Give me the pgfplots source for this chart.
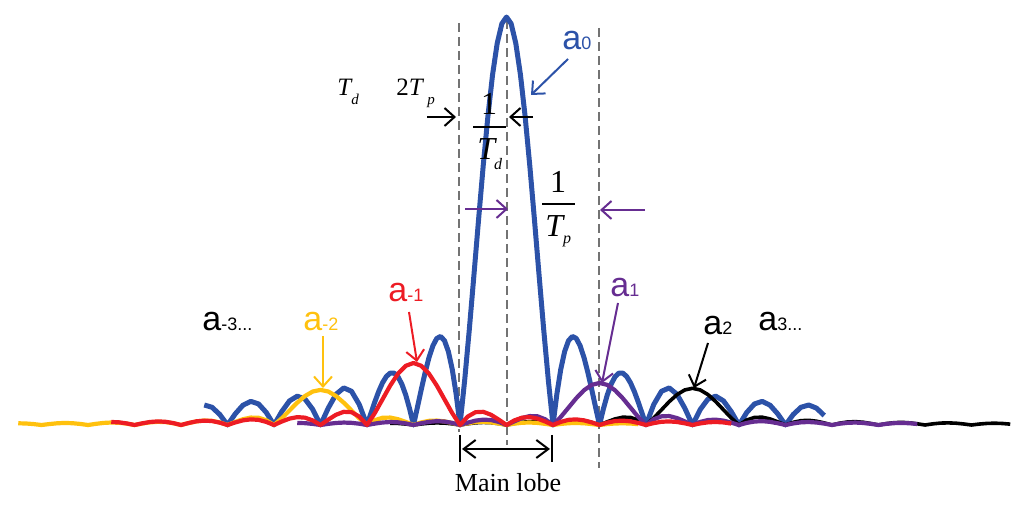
\documentclass[border=0pt]{standalone}
\usepackage{pgfplots}
\pgfplotsset{compat=1.18}
\usepackage{fontspec}
\setmainfont{Liberation Serif}
\newfontfamily\arial{Liberation Sans}
\usetikzlibrary{arrows.meta}

\definecolor{cblue}{RGB}{44,82,168}
\definecolor{cred}{RGB}{237,28,36}
\definecolor{cyellow}{RGB}{255,193,14}
\definecolor{cpurple}{RGB}{102,45,145}

% label "a" with a small index on the same baseline
\newcommand{\alab}[1]{{\arial\fontsize{17}{17}\selectfont a\fontsize{9}{9}\selectfont #1}}

\tikzset{
  ar/.style={-{Straight Barb[length=5pt,width=9pt]}, line width=1pt},
  dsh/.style={gray!90!black, line width=0.6pt, dash pattern=on 4.5pt off 2.5pt}
}

\begin{document}
\begin{tikzpicture}[x=0.5pt,y=-0.5pt,every node/.style={inner sep=0pt}]
\path (0,0) rectangle (1024,506);

% dashed guides
\draw[dsh] (459,23) -- (459,432);
\draw[dsh] (507,20) -- (507,445);
\draw[dsh] (599,28) -- (599,468);

\begin{axis}[
    at={(0,0)}, anchor=north west,
    width=512pt, height=253pt, scale only axis,
    xmin=-10.8925, xmax=11.1290,
    ymin=-0.1985, ymax=1.0417,
    hide axis
]
% a0
\addplot[cblue, line width=2.5pt, line join=round] coordinates {
(-6.5,0.0490) (-6.3333,0.0435) (-6.1667,0.0258) (-6,0)
(-5.8333,0.0273) (-5.6667,0.0486) (-5.5,0.0579) (-5.3333,0.0517) (-5.1667,0.0308) (-5,0)
(-4.8333,0.0329) (-4.6667,0.0591) (-4.5,0.0707) (-4.3333,0.0636) (-4.1667,0.0382) (-4,0)
(-3.8333,0.0415) (-3.6667,0.0752) (-3.5,0.0909) (-3.3333,0.0827) (-3.1667,0.0503) (-3,0)
(-2.9167,0.0282) (-2.8333,0.0562) (-2.75,0.0818) (-2.6667,0.1034) (-2.5833,0.1190) (-2.5,0.1273)
(-2.4167,0.1272) (-2.3333,0.1181) (-2.25,0.1000) (-2.1667,0.0735) (-2.0833,0.0395) (-2,0)
(-1.9167,0.0430) (-1.8333,0.0868) (-1.75,0.1286) (-1.6667,0.1654) (-1.5833,0.1942) (-1.5,0.2122)
(-1.4167,0.2170) (-1.3333,0.2067) (-1.25,0.1801) (-1.1667,0.1364) (-1.0833,0.0760) (-1,0)
(-0.9,0.1093) (-0.8,0.2339) (-0.7,0.3679) (-0.6,0.5046) (-0.5,0.6366) (-0.4,0.7568)
(-0.3,0.8584) (-0.2,0.9355) (-0.1,0.9836) (0,1)
(0.1,0.9836) (0.2,0.9355) (0.3,0.8584) (0.4,0.7568) (0.5,0.6366) (0.6,0.5046)
(0.7,0.3679) (0.8,0.2339) (0.9,0.1093) (1,0)
(1.0833,0.0760) (1.1667,0.1364) (1.25,0.1801) (1.3333,0.2067) (1.4167,0.2170) (1.5,0.2122)
(1.5833,0.1942) (1.6667,0.1654) (1.75,0.1286) (1.8333,0.0868) (1.9167,0.0430) (2,0)
(2.0833,0.0395) (2.1667,0.0735) (2.25,0.1000) (2.3333,0.1181) (2.4167,0.1272) (2.5,0.1273)
(2.5833,0.1190) (2.6667,0.1034) (2.75,0.0818) (2.8333,0.0562) (2.9167,0.0282) (3,0)
(3.1667,0.0503) (3.3333,0.0827) (3.5,0.0909) (3.6667,0.0752) (3.8333,0.0415) (4,0)
(4.1667,0.0382) (4.3333,0.0636) (4.5,0.0707) (4.6667,0.0591) (4.8333,0.0329) (5,0)
(5.1667,0.0308) (5.3333,0.0517) (5.5,0.0579) (5.6667,0.0486) (5.8333,0.0273) (6,0)
(6.1667,0.0258) (6.3333,0.0435) (6.5,0.0490) (6.6667,0.0413) (6.8333,0.0233)
};
% a2
\addplot[black, line width=1.8pt, line join=round] coordinates {
(-2.5,0.0044) (-2.3333,0.0039) (-2.1667,0.0023) (-2,0)
(-1.8333,0.0025) (-1.6667,0.0044) (-1.5,0.0052) (-1.3333,0.0047) (-1.1667,0.0028) (-1,0)
(-0.8333,0.0030) (-0.6667,0.0053) (-0.5,0.0064) (-0.3333,0.0057) (-0.1667,0.0034) (0,0)
(0.1667,0.0037) (0.3333,0.0068) (0.5,0.0082) (0.6667,0.0074) (0.8333,0.0045) (1,0)
(1.1667,0.0051) (1.3333,0.0093) (1.5,0.0115) (1.6667,0.0106) (1.8333,0.0066) (2,0)
(2.1667,0.0078) (2.3333,0.0149) (2.5,0.0191) (2.6667,0.0186) (2.8333,0.0123) (3,0)
(3.1667,0.0172) (3.3333,0.0372) (3.5,0.0573) (3.6667,0.0744) (3.8333,0.0859) (4,0.090)
(4.1667,0.0859) (4.3333,0.0744) (4.5,0.0573) (4.6667,0.0372) (4.8333,0.0172) (5,0)
(5.1667,0.0123) (5.3333,0.0186) (5.5,0.0191) (5.6667,0.0149) (5.8333,0.0078) (6,0)
(6.1667,0.0066) (6.3333,0.0106) (6.5,0.0115) (6.6667,0.0093) (6.8333,0.0051) (7,0)
(7.1667,0.0045) (7.3333,0.0074) (7.5,0.0082) (7.6667,0.0068) (7.8333,0.0037) (8,0)
(8.1667,0.0034) (8.3333,0.0057) (8.5,0.0064) (8.6667,0.0053) (8.8333,0.0030) (9,0)
(9.1667,0.0028) (9.3333,0.0047) (9.5,0.0052) (9.6667,0.0044) (9.8333,0.0025) (10,0)
(10.1667,0.0023) (10.3333,0.0039) (10.5,0.0044) (10.6667,0.0037) (10.8333,0.0021)
};
% a-2
\addplot[cyellow, line width=2.1pt, line join=round] coordinates {
(-10.5,0.0042) (-10.3333,0.0037) (-10.1667,0.0022) (-10,0)
(-9.8333,0.0023) (-9.6667,0.0042) (-9.5,0.0050) (-9.3333,0.0044) (-9.1667,0.0026) (-9,0)
(-8.8333,0.0028) (-8.6667,0.0051) (-8.5,0.0061) (-8.3333,0.0055) (-8.1667,0.0033) (-8,0)
(-7.8333,0.0036) (-7.6667,0.0065) (-7.5,0.0078) (-7.3333,0.0071) (-7.1667,0.0043) (-7,0)
(-6.8333,0.0048) (-6.6667,0.0089) (-6.5,0.0109) (-6.3333,0.0102) (-6.1667,0.0063) (-6,0)
(-5.8333,0.0075) (-5.6667,0.0142) (-5.5,0.0182) (-5.3333,0.0178) (-5.1667,0.0117) (-5,0)
(-4.8333,0.0164) (-4.6667,0.0356) (-4.5,0.0547) (-4.3333,0.0711) (-4.1667,0.0821) (-4,0.086)
(-3.8333,0.0821) (-3.6667,0.0711) (-3.5,0.0547) (-3.3333,0.0356) (-3.1667,0.0164) (-3,0)
(-2.8333,0.0117) (-2.6667,0.0178) (-2.5,0.0182) (-2.3333,0.0142) (-2.1667,0.0075) (-2,0)
(-1.8333,0.0063) (-1.6667,0.0102) (-1.5,0.0109) (-1.3333,0.0089) (-1.1667,0.0048) (-1,0)
(-0.8333,0.0043) (-0.6667,0.0071) (-0.5,0.0078) (-0.3333,0.0065) (-0.1667,0.0036) (0,0)
(0.1667,0.0033) (0.3333,0.0055) (0.5,0.0061) (0.6667,0.0051) (0.8333,0.0028) (1,0)
(1.1667,0.0026) (1.3333,0.0044) (1.5,0.0050) (1.6667,0.0042) (1.8333,0.0023) (2,0)
(2.1667,0.0022) (2.3333,0.0037) (2.5,0.0042) (2.6667,0.0036) (2.8333,0.0020)
};
% a1
\addplot[cpurple, line width=2.1pt, line join=round] coordinates {
(-4.5,0.0050) (-4.3333,0.0045) (-4.1667,0.0027) (-4,0)
(-3.8333,0.0028) (-3.6667,0.0050) (-3.5,0.0060) (-3.3333,0.0053) (-3.1667,0.0032) (-3,0)
(-2.8333,0.0034) (-2.6667,0.0061) (-2.5,0.0073) (-2.3333,0.0066) (-2.1667,0.0039) (-2,0)
(-1.8333,0.0043) (-1.6667,0.0077) (-1.5,0.0094) (-1.3333,0.0085) (-1.1667,0.0052) (-1,0)
(-0.8333,0.0058) (-0.6667,0.0107) (-0.5,0.0131) (-0.3333,0.0122) (-0.1667,0.0076) (0,0)
(0.1667,0.0089) (0.3333,0.0170) (0.5,0.0219) (0.6667,0.0213) (0.8333,0.0140) (1,0)
(1.1667,0.0197) (1.3333,0.0426) (1.5,0.0656) (1.6667,0.0852) (1.8333,0.0984) (2,0.103)
(2.1667,0.0984) (2.3333,0.0852) (2.5,0.0656) (2.6667,0.0426) (2.8333,0.0197) (3,0)
(3.1667,0.0140) (3.3333,0.0213) (3.5,0.0219) (3.6667,0.0170) (3.8333,0.0089) (4,0)
(4.1667,0.0076) (4.3333,0.0122) (4.5,0.0131) (4.6667,0.0107) (4.8333,0.0058) (5,0)
(5.1667,0.0052) (5.3333,0.0085) (5.5,0.0094) (5.6667,0.0077) (5.8333,0.0043) (6,0)
(6.1667,0.0039) (6.3333,0.0066) (6.5,0.0073) (6.6667,0.0061) (6.8333,0.0034) (7,0)
(7.1667,0.0032) (7.3333,0.0053) (7.5,0.0060) (7.6667,0.0050) (7.8333,0.0028) (8,0)
(8.1667,0.0027) (8.3333,0.0045) (8.5,0.0050) (8.6667,0.0043) (8.8333,0.0024)
};
% a-1
\addplot[cred, line width=2.1pt, line join=round] coordinates {
(-8.5,0.0074) (-8.3333,0.0066) (-8.1667,0.0039) (-8,0)
(-7.8333,0.0041) (-7.6667,0.0074) (-7.5,0.0088) (-7.3333,0.0079) (-7.1667,0.0047) (-7,0)
(-6.8333,0.0050) (-6.6667,0.0090) (-6.5,0.0107) (-6.3333,0.0097) (-6.1667,0.0058) (-6,0)
(-5.8333,0.0063) (-5.6667,0.0114) (-5.5,0.0138) (-5.3333,0.0126) (-5.1667,0.0076) (-5,0)
(-4.8333,0.0085) (-4.6667,0.0157) (-4.5,0.0193) (-4.3333,0.0180) (-4.1667,0.0112) (-4,0)
(-3.8333,0.0132) (-3.6667,0.0251) (-3.5,0.0323) (-3.3333,0.0314) (-3.1667,0.0207) (-3,0)
(-2.8333,0.0290) (-2.6667,0.0629) (-2.5,0.0968) (-2.3333,0.1257) (-2.1667,0.1451) (-2,0.152)
(-1.8333,0.1451) (-1.6667,0.1257) (-1.5,0.0968) (-1.3333,0.0629) (-1.1667,0.0290) (-1,0)
(-0.8333,0.0207) (-0.6667,0.0314) (-0.5,0.0323) (-0.3333,0.0251) (-0.1667,0.0132) (0,0)
(0.1667,0.0112) (0.3333,0.0180) (0.5,0.0193) (0.6667,0.0157) (0.8333,0.0085) (1,0)
(1.1667,0.0076) (1.3333,0.0126) (1.5,0.0138) (1.6667,0.0114) (1.8333,0.0063) (2,0)
(2.1667,0.0058) (2.3333,0.0097) (2.5,0.0107) (2.6667,0.0090) (2.8333,0.0050) (3,0)
(3.1667,0.0047) (3.3333,0.0079) (3.5,0.0088) (3.6667,0.0074) (3.8333,0.0041) (4,0)
(4.1667,0.0039) (4.3333,0.0066) (4.5,0.0074) (4.6667,0.0063) (4.8333,0.0035)
};
\end{axis}

% width markers
\draw[ar] (427,117) -- (456,117);
\draw[ar] (533,117) -- (509,117);
\draw[ar, cpurple] (465,209) -- (508,209);
\draw[ar, cpurple] (645,210) -- (600,210);

% T labels
\node[anchor=base west] at (337,96) {\fontsize{12.5}{12.5}\selectfont\itshape T\raisebox{-4.5pt}{\fontsize{7.5}{7.5}\selectfont d}};
\node[anchor=base west] at (396,96) {\fontsize{12.5}{12.5}\selectfont 2\textit{T}\kern1.5pt\raisebox{-4.5pt}{\fontsize{7.5}{7.5}\selectfont\itshape p}};

% fraction 1/Td
\node[anchor=base] at (489,115) {\fontsize{16}{16}\selectfont 1};
\draw[line width=0.8pt] (473,127) -- (506,127);
\node[anchor=base west] at (477,160) {\fontsize{16}{16}\selectfont\itshape T\kern-0.5pt\raisebox{-5pt}{\fontsize{8}{8}\selectfont d}};

% fraction 1/Tp
\node[anchor=base] at (558,193) {\fontsize{16}{16}\selectfont 1};
\draw[line width=0.8pt] (542,204) -- (575,204);
\node[anchor=base west] at (545,237) {\fontsize{16}{16}\selectfont\itshape T\raisebox{-3.5pt}{\fontsize{8}{8}\selectfont p}};

% main lobe
\draw[line width=1.2pt] (460,435) -- (460,462);
\draw[line width=1.2pt] (552,435) -- (552,462);
\draw[{Straight Barb[length=6pt,width=9pt]}-{Straight Barb[length=6pt,width=9pt]}, line width=1pt] (462,449) -- (550,449);
\node[anchor=base] at (508,492) {\fontsize{13}{13}\selectfont Main lobe};

% curve labels
\node[anchor=base west, text=cblue] at (562,50) {\alab{0}};
\draw[ar, cblue] (568,59) -- (531,95);
\node[anchor=base west, text=cred] at (388,302) {\alab{-1}};
\draw[ar, cred] (409,312) -- (417,362);
\node[anchor=base west, text=cyellow] at (303,331) {\alab{-2}};
\draw[ar, cyellow] (323,336) -- (323,388);
\node[anchor=base west] at (202,331) {\alab{-3...}};
\node[anchor=base west, text=cpurple] at (610,297) {\alab{1}};
\draw[ar, cpurple] (618,303) -- (602,383);
\node[anchor=base west] at (703,335) {\alab{2}};
\draw[ar] (708,343) -- (694,388);
\node[anchor=base west] at (758,331) {\alab{3...}};
\end{tikzpicture}
\end{document}
